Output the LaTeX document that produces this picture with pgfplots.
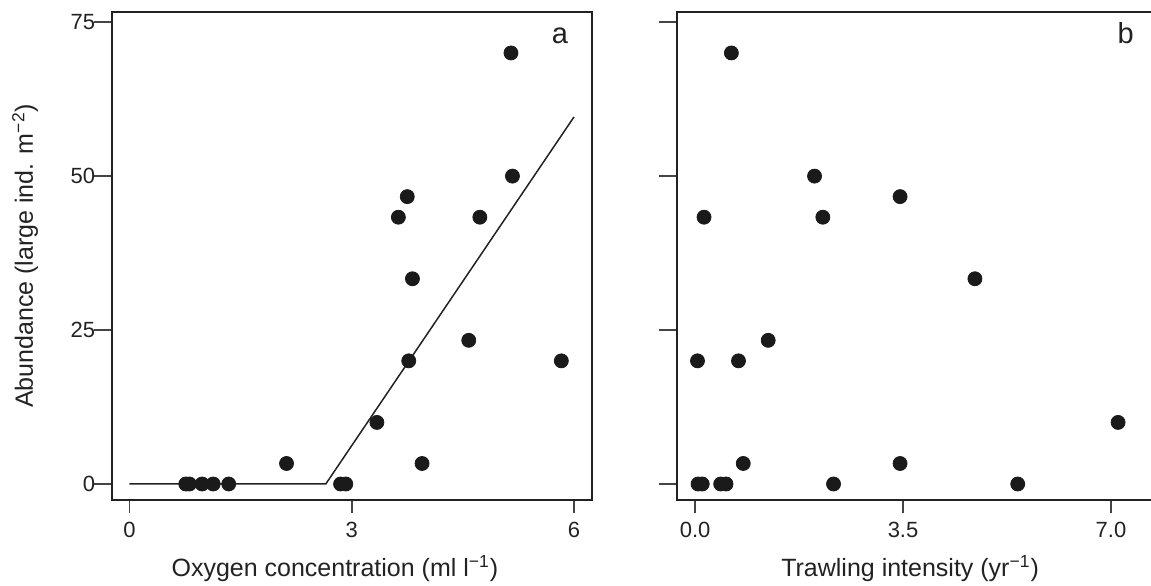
\documentclass[border=0pt]{standalone}
\usepackage{fontspec}
\setmainfont{Liberation Sans}
\usepackage{pgfplots}
\usepackage{pgfplotstable}
\pgfplotsset{compat=1.18}
\definecolor{dot}{HTML}{1A1A1A}
\definecolor{frame}{HTML}{222222}
\definecolor{tickc}{HTML}{444444}

\pgfplotstableread{
x y
0.76 0
0.81 0
0.98 0
1.13 0
1.34 0
2.85 0
2.92 0
2.12 3.33
3.95 3.33
3.34 10
3.77 20
5.83 20
4.58 23.33
3.82 33.33
3.63 43.33
4.73 43.33
3.75 46.67
5.17 50
5.15 70
}\oxy

\pgfplotstableread{
x y
0.05 0
0.12 0
0.43 0
0.52 0
2.33 0
5.43 0
0.81 3.33
3.45 3.33
7.12 10
0.04 20
0.73 20
1.23 23.33
4.71 33.33
0.15 43.33
2.15 43.33
3.45 46.67
2.01 50
0.61 70
}\trawl

\begin{document}
\begin{tikzpicture}
\pgfplotsset{
  panel/.style={
    scale only axis, width=240pt, height=244.15pt,
    anchor=south west,
    axis line style={frame, line width=0.9pt},
    tick align=outside,
    xtick pos=bottom, ytick pos=left,
    xtick style={tickc, line width=0.9pt, /pgfplots/major tick length=6.5pt},
    ytick style={tickc, line width=0.9pt, /pgfplots/major tick length=9pt},
    ymin=-2.6, ymax=76.7, ytick={0,25,50,75},
    tick label style={font=\fontsize{11}{13}\selectfont, text=frame},
    xticklabel style={yshift=-3.5pt},
    yticklabel style={xshift=-0.5pt},
    /pgf/number format/assume math mode=true,
    label style={font=\fontsize{12.5}{15}\selectfont, text=frame},
    xlabel style={at={(rel axis cs:0.465,-0.157)}, anchor=base},
  },
  dots/.style={only marks, mark=*, mark size=3.5pt, draw=dot, fill=dot},
}
\begin{axis}[panel, at={(55.85pt,42.5pt)},
  xmin=-0.24, xmax=6.24, xtick={0,3,6},
  xlabel={Oxygen concentration (ml l\textsuperscript{−1})},
  ylabel={Abundance (large ind. m\textsuperscript{−2})},
  ylabel style={at={(rel axis cs:-0.164,0.5)}, anchor=base},
]
\addplot[no marks, sharp plot, frame, line width=0.75pt] coordinates {(0,0) (2.65,0) (6,59.6)};
\addplot[dots] table[x=x,y=y] {\oxy};
\node[anchor=base, font=\fontsize{14.5}{17}\selectfont, text=frame] at (rel axis cs:0.934,0.935) {a};
\end{axis}
\begin{axis}[panel, at={(338.65pt,42.5pt)},
  xmin=-0.30, xmax=7.78, xtick={0,3.5,7}, xticklabels={0.0,3.5,7.0},
  yticklabels={},
  xlabel={Trawling intensity (yr\textsuperscript{−1})},
  xlabel style={at={(rel axis cs:0.485,-0.157)}},
]
\addplot[dots] table[x=x,y=y] {\trawl};
\node[anchor=base, font=\fontsize{14.5}{17}\selectfont, text=frame] at (rel axis cs:0.934,0.935) {b};
\end{axis}
\pgfresetboundingbox
\path[use as bounding box] (0pt,0pt) rectangle (575.5pt,292.5pt);
\end{tikzpicture}
\end{document}
